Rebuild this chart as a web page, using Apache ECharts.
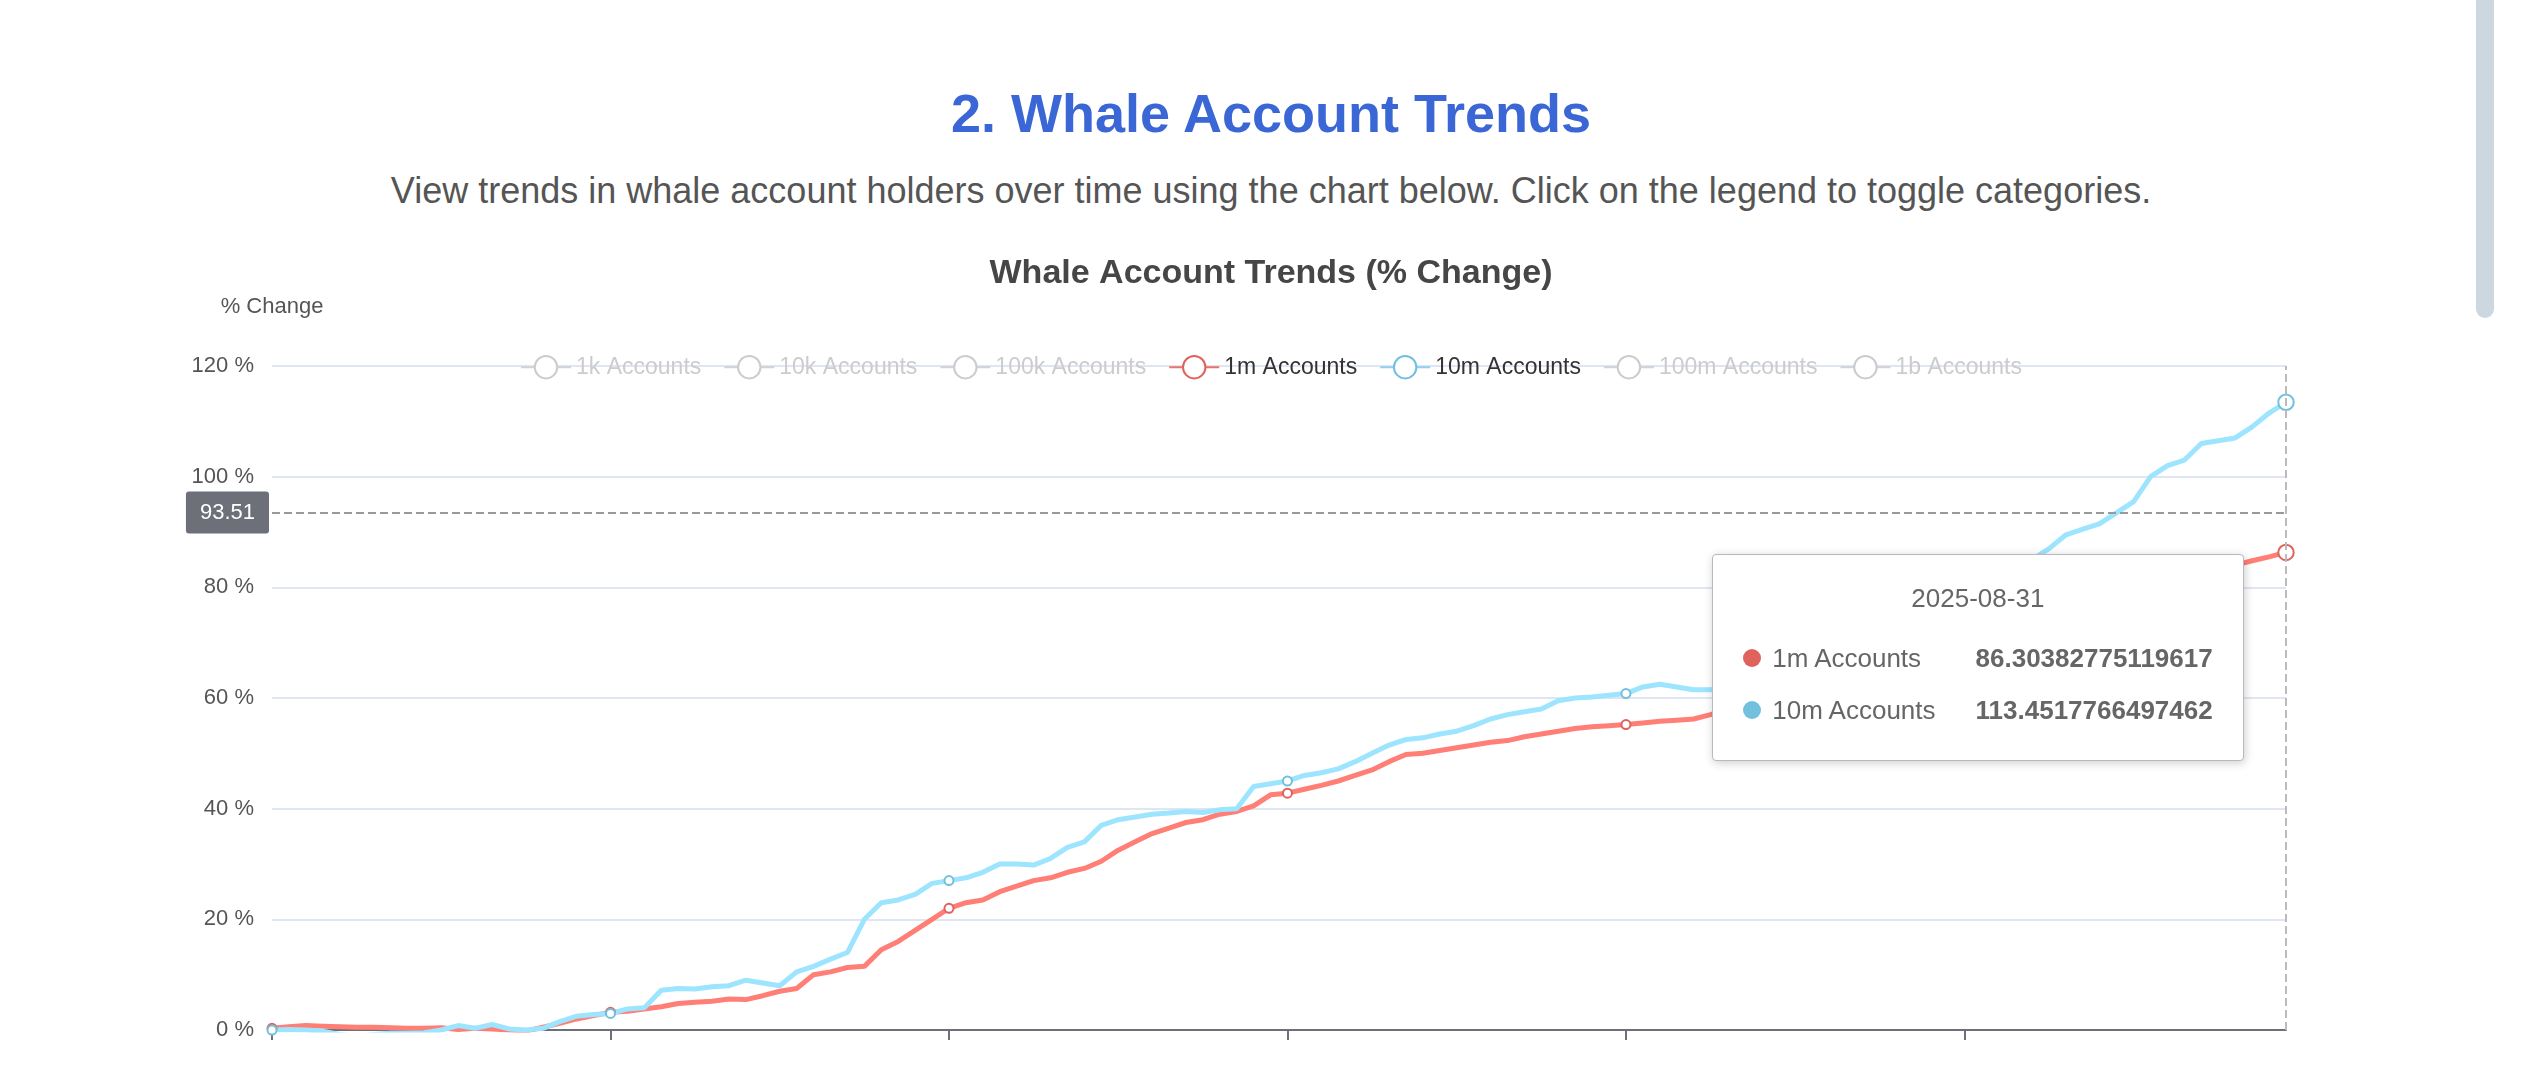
<!DOCTYPE html>
<html>
<head>
<meta charset="utf-8">
<script src="https://cdn.jsdelivr.net/npm/echarts@6/dist/echarts.min.js"></script>
<style>
  html, body { margin: 0; padding: 0; background: #fff; overflow: hidden; font-family: "Liberation Sans", Arial, sans-serif; }
  h2 { margin: 0; position: absolute; top: 82px; width: 2542px; text-align: center; font-size: 54px; color: #3b66d6; font-weight: bold; }
  p { margin: 0; position: absolute; top: 170px; width: 2542px; text-align: center; font-size: 36px; color: #555; }
  #chart { position: absolute; left: 0; top: 240px; width: 2542px; height: 880px; }
  .bar { position: absolute; left: 2476px; top: 0; width: 18px; height: 318px; background: #cdd7e0; border-radius: 0 0 9px 9px; }
</style>
</head>
<body>
<h2>2. Whale Account Trends</h2>
<p>View trends in whale account holders over time using the chart below. Click on the legend to toggle categories.</p>
<div class="bar"></div>
<div id="chart"></div>
<script>
var seriesNames = ['1k Accounts', '10k Accounts', '100k Accounts', '1m Accounts', '10m Accounts', '100m Accounts', '1b Accounts'];
var shownNames = ['1m Accounts', '10m Accounts'];
var palette = ['#5470c6', '#91cc75', '#fac858', '#e0625c', '#73c0de', '#3ba272', '#fc8452'];
var lineColors = { '1m Accounts': '#e8736c', '10m Accounts': '#8fd0f0' };

// one point every 3 days, ending 2025-08-31
var dates = [];
for (var i = 119; i >= 0; i--) {
  var d = new Date(Date.UTC(2025, 7, 31) - i * 3 * 86400000);
  dates.push(d.toISOString().slice(0, 10));
}

var data1m = [0.3,0.6,0.8,0.7,0.6,0.5,0.5,0.4,0.3,0.3,0.4,0.1,0.3,0.2,0,-0.2,0.5,1.2,2,2.6,3.2,
  3.4,3.8,4.2,4.8,5,5.2,5.6,5.5,6.2,7,7.5,10,10.5,11.3,11.5,14.5,16,18,20,22,
  23,23.5,25,26,27,27.5,28.5,29.2,30.5,32.5,34,35.5,36.5,37.5,38,39,39.5,40.5,42.5,42.8,
  43.5,44.2,45,46,47,48.5,49.8,50,50.5,51,51.5,52,52.3,53,53.5,54,54.5,54.8,55,55.2,
  55.5,55.8,56,56.2,57,58,59,60,61,62,63,64,65,66,67,68,69,70,71,72,
  73,74,75,76,77,77.8,78.5,79.3,80,80.6,81.2,81.8,82.3,82.8,83.3,84,84.8,85.5,86.30382775119617];

var data10m = [0,0.1,0,-0.2,-0.8,-1.2,-0.8,-0.6,-0.6,-0.5,0,0.8,0.3,1,0.2,0,0.3,1.5,2.5,2.8,3,
  3.8,4,7.2,7.5,7.4,7.8,8,9,8.5,8,10.5,11.5,12.8,14,20,23,23.5,24.5,26.5,27,
  27.5,28.5,30,30,29.8,31,33,34,37,38,38.5,39,39.2,39.5,39.3,39.8,40,44,44.5,45,
  46,46.5,47.2,48.5,50,51.5,52.5,52.8,53.5,54,55,56.2,57,57.5,58,59.5,60,60.2,60.5,60.8,
  62,62.5,62,61.5,61.5,62,63,64,65,66,67.5,68.5,70,71,72,73,74.5,75.5,77,78,
  79.5,81,82.5,85,87,89.5,90.5,91.5,93.5,95.5,100,102,103,106,106.5,107,109,111.5,113.4517766497462];

var yTicks = [0, 20, 40, 60, 80, 100, 120];

var dataByName = { '1m Accounts': data1m, '10m Accounts': data10m };
var selected = {};
seriesNames.forEach(function (n) { selected[n] = shownNames.indexOf(n) >= 0; });

var chart = echarts.init(document.getElementById('chart'));
var option = {
  animation: false,
  color: palette,
  title: {
    text: 'Whale Account Trends (% Change)', left: 'center', top: 12,
    textStyle: { fontSize: 34, fontWeight: 'bold', color: '#464646' }
  },
  legend: {
    top: 110, left: 'center', itemWidth: 50, itemHeight: 28, itemGap: 22,
    textStyle: { fontSize: 23, color: '#333' }, inactiveColor: '#ccc',
    selected: selected, data: seriesNames
  },
  tooltip: {
    trigger: 'axis',
    axisPointer: { type: 'cross', label: { fontSize: 22, padding: [10, 14], backgroundColor: '#6E7079' } },
    padding: [24, 30], textStyle: { fontSize: 26, color: '#666' },
    position: function (pt, params, dom, rect, size) { return [pt[0] - size.contentSize[0] - 42, 314]; },
    formatter: function (ps) {
      var s = '<div style="text-align:center;margin-bottom:14px">' + ps[0].axisValue + '</div>';
      ps.forEach(function (p) {
        s += '<div style="line-height:52px">' + p.marker.replace('width:10px;height:10px', 'width:18px;height:18px') +
          ' ' + p.seriesName + '<b style="margin-left:40px;float:right;color:#666">' + p.value + '</b></div>';
      });
      return s;
    }
  },
  grid: { left: 272, right: 218 + 38, top: 126, height: 664 },
  xAxis: {
    type: 'category', data: dates, boundaryGap: false,
    axisLine: { lineStyle: { color: '#6E7079', width: 2 } },
    axisTick: { interval: 19, length: 10, lineStyle: { width: 2 } },
    axisLabel: { show: false },
    axisPointer: { label: { show: false }, lineStyle: { type: 'dashed', color: '#bbb', width: 2 } }
  },
  yAxis: {
    type: 'value', min: yTicks[0], max: yTicks[yTicks.length - 1], interval: 20,
    name: '% Change', nameTextStyle: { fontSize: 22, color: '#555', padding: [0, 0, 18, 0] }, nameGap: 30,
    axisLabel: { formatter: '{value} %', fontSize: 22, color: '#555', margin: 18 },
    splitLine: { lineStyle: { color: '#e0e6f1', width: 2 } },
    axisPointer: { lineStyle: { type: 'dashed', color: '#999', width: 2 } }
  },
  series: seriesNames.map(function (n) {
    var arr = dataByName[n] || [];
    return {
      name: n, type: 'line', data: arr, showSymbol: true, showAllSymbol: true, symbol: 'emptyCircle',
      symbolSize: function (v, p) { return (p.dataIndex % 20 === 0 || p.dataIndex === arr.length - 1) ? (p.dataIndex === arr.length - 1 ? 14 : 9) : 0; },
      lineStyle: { width: 5, color: lineColors[n] }, itemStyle: { borderWidth: 2.5 }
    };
  })
};
chart.setOption(option);
chart.dispatchAction({ type: 'showTip', x: 2286, y: 126 + 664 - 93.51 * 664 / 120 });
</script>
</body>
</html>
